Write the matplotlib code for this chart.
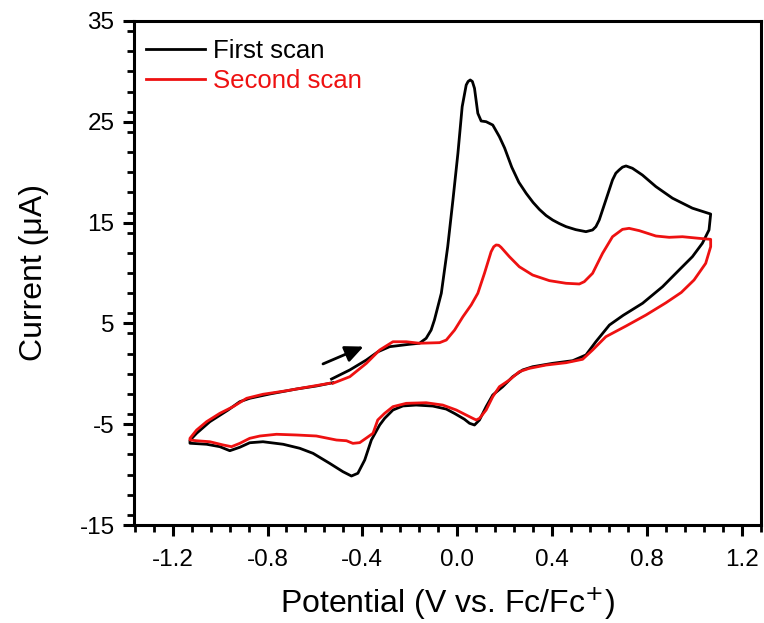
import matplotlib
matplotlib.use("Agg")
import matplotlib.pyplot as plt
from matplotlib.ticker import MultipleLocator, FormatStrFormatter

plt.rcParams["font.family"] = ["Liberation Sans", "DejaVu Sans"]
plt.rcParams["axes.unicode_minus"] = False

# first scan: potential (V vs Fc/Fc+) and current (uA)
first_v = [
    -0.530, -0.453, -0.383, -0.334, -0.285, -0.201, -0.159, -0.131, -0.110,
    -0.096, -0.067, -0.040, -0.018, 0.003, 0.021, 0.038, 0.046, 0.055, 0.064,
    0.073, 0.087, 0.101, 0.122, 0.150, 0.178, 0.200, 0.230, 0.260, 0.291,
    0.320, 0.347, 0.375, 0.403, 0.431, 0.459, 0.500, 0.543, 0.571, 0.585,
    0.599, 0.627, 0.655, 0.669, 0.683, 0.697, 0.712, 0.739, 0.781,
    0.838, 0.908, 0.992, 1.069,
    1.062, 1.034, 0.992, 0.936, 0.866, 0.782, 0.700, 0.642, 0.585, 0.543,
    0.487, 0.403, 0.318, 0.276, 0.234, 0.192, 0.150, 0.122, 0.094, 0.073,
    0.052, 0.030, -0.010, -0.046, -0.103, -0.173, -0.229, -0.271, -0.306,
    -0.327, -0.362, -0.390, -0.419, -0.446, -0.482, -0.538, -0.608, -0.664,
    -0.734, -0.819, -0.875, -0.917, -0.959, -1.001, -1.057, -1.127,
    -1.127, -1.099, -1.043, -0.966, -0.917, -0.875, -0.790, -0.678, -0.594,
    -0.524,
]
first_i = [
    -0.52, 0.38, 1.37, 2.19, 2.69, 2.93, 3.03, 3.52, 4.34,
    5.34, 7.99, 12.61, 17.24, 21.87, 26.50, 28.65, 29.00, 29.15, 29.00,
    28.32, 25.84, 25.08, 25.01, 24.68, 23.52, 22.40, 20.50, 19.00, 17.90,
    17.00, 16.30, 15.70, 15.25, 14.90, 14.60, 14.30, 14.10, 14.27, 14.60,
    15.26, 17.24, 19.23, 19.90, 20.22, 20.50, 20.62, 20.39, 19.72,
    18.57, 17.42, 16.43, 15.85,
    14.27, 12.95, 11.62, 10.30, 8.64, 7.00, 5.80, 4.84, 3.19, 1.87,
    1.30, 1.04, 0.70, 0.38, -0.29, -1.28, -2.10, -3.26, -4.58, -5.08,
    -4.91, -4.50, -3.95, -3.50, -3.20, -3.10, -3.19, -3.59, -4.42,
    -5.08, -6.57, -8.55, -9.87, -10.14, -9.71, -8.88, -7.89, -7.39,
    -6.99, -6.74, -6.84, -7.29, -7.63, -7.23, -6.99, -6.89,
    -6.60, -5.90, -4.75, -3.59, -2.77, -2.43, -2.00, -1.51, -1.21,
    -0.88,
]

# second scan
second_v = [
    -0.524, -0.453, -0.383, -0.327, -0.271, -0.215, -0.159, -0.074, -0.046,
    -0.011, 0.024, 0.059, 0.087, 0.115, 0.143, 0.154, 0.164, 0.175, 0.185,
    0.220, 0.262, 0.318, 0.389, 0.459, 0.515, 0.536, 0.571, 0.613, 0.655,
    0.697, 0.725, 0.768, 0.838, 0.894, 0.950, 1.020, 1.069,
    1.069, 1.048, 0.999, 0.945, 0.880, 0.796, 0.712, 0.627, 0.571, 0.529,
    0.459, 0.375, 0.304, 0.262, 0.220, 0.178, 0.150, 0.122, 0.094, 0.080,
    0.066, 0.038, -0.004, -0.061, -0.131, -0.215, -0.271, -0.306, -0.335,
    -0.355, -0.383, -0.411, -0.440, -0.467, -0.509, -0.594, -0.678, -0.762,
    -0.832, -0.875, -0.917, -0.952, -0.987, -1.043, -1.099, -1.127,
    -1.127, -1.099, -1.057, -1.001, -0.945, -0.888, -0.819, -0.720, -0.622,
    -0.538,
]
second_i = [
    -0.94, -0.29, 1.04, 2.36, 3.18, 3.18, 3.03, 3.09, 3.35,
    4.34, 5.66, 6.83, 7.99, 9.97, 12.11, 12.60, 12.78, 12.75, 12.55,
    11.62, 10.62, 9.80, 9.24, 8.98, 8.91, 9.14, 9.97, 11.95, 13.60,
    14.33, 14.43, 14.20, 13.67, 13.54, 13.60, 13.44, 13.34,
    12.61, 10.96, 9.31, 8.07, 7.04, 5.83, 4.74, 3.68, 2.36, 1.44,
    1.10, 0.87, 0.54, 0.21, -0.62, -1.28, -2.27, -3.59, -4.42, -4.58,
    -4.42, -4.09, -3.59, -3.10, -2.87, -2.93, -3.26, -3.92, -4.58,
    -5.90, -6.37, -6.83, -6.90, -6.64, -6.57, -6.17, -6.07, -6.00,
    -6.17, -6.40, -6.90, -7.23, -7.06, -6.74, -6.64, -6.57,
    -6.40, -5.58, -4.75, -3.92, -3.26, -2.43, -2.03, -1.68, -1.28,
    -0.94,
]

# scan direction arrow (tail, head)
arrow_tail = (-0.566, 0.98)
arrow_head = (-0.395, 2.70)

fig = plt.figure(figsize=(7.64, 6.23), dpi=100)
ax = fig.add_axes([0.1754, 0.1573, 0.8206, 0.809])

ax.plot(first_v, first_i, color="black", lw=2.0, label="First scan")
ax.plot(second_v, second_i, color="#ee1111", lw=2.0, label="Second scan")

ax.annotate("", xy=arrow_head, xytext=arrow_tail,
            arrowprops=dict(arrowstyle="-|>,head_length=1.1,head_width=0.5",
                            color="black", lw=2.0, shrinkA=0, shrinkB=0))

ax.set_xlim(-1.363, 1.281)
ax.set_ylim(-15, 35)
ax.xaxis.set_major_locator(MultipleLocator(0.4))
ax.xaxis.set_minor_locator(MultipleLocator(0.08))
ax.xaxis.set_major_formatter(FormatStrFormatter("%.1f"))
ax.yaxis.set_minor_locator(MultipleLocator(2))
ax.set_yticks([-15, -5, 5, 15, 25, 35])

for s in ax.spines.values():
    s.set_linewidth(2.2)
ax.tick_params(which="major", direction="out", length=8, width=2.2,
               labelsize=17.5, pad=6)
ax.tick_params(which="minor", direction="out", length=5, width=2.0)
ax.tick_params(axis="x", which="major", pad=9)

ax.set_xlabel("Potential (V vs. Fc/Fc$^{+}$)", fontsize=23, labelpad=10)
ax.set_ylabel("Current (\u03bcA)", fontsize=23, labelpad=22)

ax.legend(loc="upper left", bbox_to_anchor=(0.003, 0.985), frameon=False,
          fontsize=18.5, handlelength=2.3, handletextpad=0.3,
          labelspacing=0.25, borderaxespad=0, labelcolor="linecolor")

fig.savefig("out.png", dpi=100)
